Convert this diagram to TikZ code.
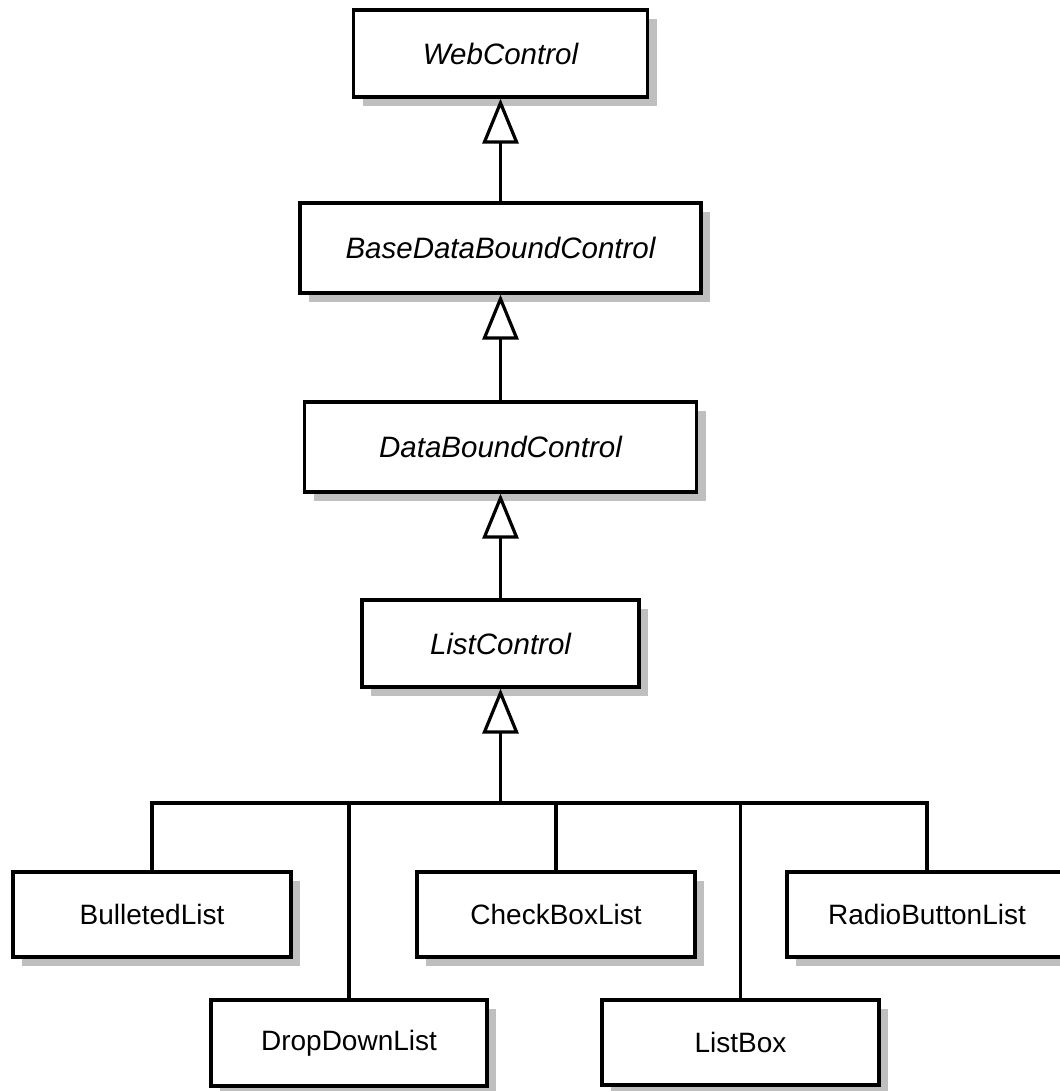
\documentclass[tikz,border=0pt]{standalone}
\usepackage{fontspec}
\setmainfont{Liberation Sans}
\usetikzlibrary{shadows,arrows.meta}
\begin{document}
\begin{tikzpicture}[x=1pt,y=-1pt,
  cls/.style={draw=black, line width=3.2pt, fill=white, inner sep=0pt,
    font=\fontsize{28}{34}\selectfont,
    drop shadow={shadow xshift=9pt, shadow yshift=-9pt, fill=black!25, opacity=1}},
  abs/.style={cls, font=\fontsize{29.5}{35}\selectfont\itshape},
  conn/.style={line width=3.2pt, draw=black},
  inh/.style={conn, -{Triangle[open, length=45pt, width=36pt]}}]
\fill[white] (0,0) rectangle (1059,1091);
\useasboundingbox (0,0) rectangle (1059,1091);

% abstract classes
\node[abs, minimum width=294pt, minimum height=87pt] (web)  at (500.5,53.5)  {WebControl};
\node[abs, minimum width=401pt, minimum height=90pt] (base) at (500.5,248)   {BaseDataBoundControl};
\node[abs, minimum width=392pt, minimum height=90pt] (data) at (500.5,447)   {DataBoundControl};
\node[abs, minimum width=277pt, minimum height=87pt] (list) at (500.5,643.5) {ListControl};

% concrete classes
\node[cls, minimum width=278pt, minimum height=85pt] (bul) at (152,914.5)    {BulletedList};
\node[cls, minimum width=276pt, minimum height=86pt] (ddl) at (349,1043)     {DropDownList};
\node[cls, minimum width=278pt, minimum height=85pt] (cbl) at (556,914.5)    {CheckBoxList};
\node[cls, minimum width=277pt, minimum height=85pt] (lb)  at (740.5,1042.5) {ListBox};
\node[cls, minimum width=280pt, minimum height=85pt] (rbl) at (927,914.5)    {RadioButtonList};

% inheritance chain
\draw[inh] (base.north) -- (web.south);
\draw[inh] (data.north) -- (base.south);
\draw[inh] (list.north) -- (data.south);
\coordinate (bus) at (500.5,803);
\draw[inh] (bus) -- (list.south);

% bus to subclasses
\draw[conn] (bul.north) |- (bus) -| (rbl.north);
\draw[conn] (ddl.north) -- (ddl.north |- bus);
\draw[conn] (cbl.north) -- (cbl.north |- bus);
\draw[conn] (lb.north)  -- (lb.north |- bus);
\end{tikzpicture}
\end{document}
